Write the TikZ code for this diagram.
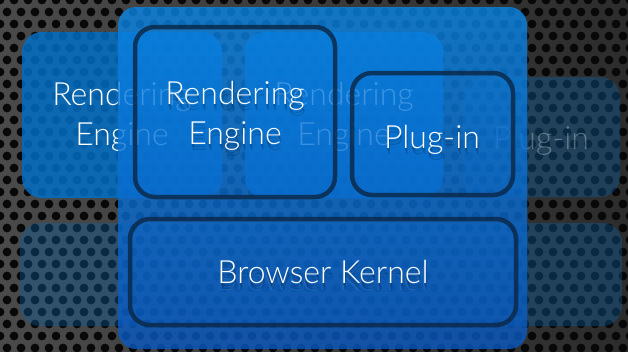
\documentclass[tikz,border=0pt]{standalone}
\usepackage{fontspec}
\setmainfont{Lato}[UprightFont=* Light]
\definecolor{plateA}{HTML}{4A4A4A}
\definecolor{plateB}{HTML}{2C2C2C}
\definecolor{hole}{HTML}{080808}
\definecolor{boxTop}{HTML}{0A86E6}
\definecolor{boxBot}{HTML}{0A58C0}
\definecolor{ghostBlue}{HTML}{0070C8}
\definecolor{ghostDim}{HTML}{0A64A8}
\definecolor{rim}{HTML}{0B2A4C}
\begin{document}
\begin{tikzpicture}[x=1pt,y=-1pt,
  ghost/.style={rounded corners=20pt, fill=ghostBlue},
  dimghost/.style={rounded corners=20pt, fill=ghostDim, fill opacity=0.36},
  mainbox/.style={rounded corners=18pt, top color=boxTop, bottom color=boxBot},
  framebox/.style={rounded corners=20pt, draw=rim, line width=4.5pt, draw opacity=0.85},
  label/.style={text=white, font=\fontsize{32}{40}\selectfont, align=center, inner sep=0pt},
  shade/.style={label, text=black, text opacity=0.16}
]
\useasboundingbox (0,0) rectangle (628,351);

% perforated metal plate
\shade[left color=plateA, right color=plateB] (0,0) rectangle (628,351);
\foreach \r [evaluate=\r as \off using {mod(\r,2)*7}] in {0,...,30}
  \foreach \c in {0,...,45}
    \fill[hole] ({\c*14+\off},{\r*12}) circle (4.4);

% faded copies of the layers behind the browser
\path[ghost, fill opacity=0.82] (22,32) rectangle (222,198);
\path[ghost, fill opacity=0.82] (245,32) rectangle (443,198);
\path[dimghost] (463,77) rectangle (620,197);
\path[dimghost] (20,223) rectangle (622,326);
\node[label] (ghostRE1) at (122,117) {Rendering\\Engine};
\node[label] (ghostRE2) at (344,117) {Rendering\\Engine};
\node[label, text opacity=0.3] (ghostPI) at (541,141) {Plug-in};
\node[label, text opacity=0.3] (ghostBK) at (322,279) {Browser Kernel};

% the browser
\path[mainbox, fill opacity=0.8] (118,7) rectangle (527,349);

\path[framebox] (135,27) rectangle (335,197);
\path[framebox] (352,73) rectangle (513,195);
\path[framebox] (130,219) rectangle (516,325);

% soft drop shadows under the labels
\foreach \dx/\dy [count=\i] in {0/3,1/6} {
  \node[shade] (shRE\i) at ({235+\dx},{116+\dy}) {Rendering\\Engine};
  \node[shade] (shPI\i) at ({432+\dx},{140+\dy}) {Plug-in};
  \node[shade] (shBK\i) at ({323+\dx},{272+\dy}) {Browser Kernel};
}

\node[label] (re) at (235,116) {Rendering\\Engine};
\node[label] (pi) at (432,140) {Plug-in};
\node[label] (bk) at (323,272) {Browser Kernel};
\end{tikzpicture}
\end{document}
